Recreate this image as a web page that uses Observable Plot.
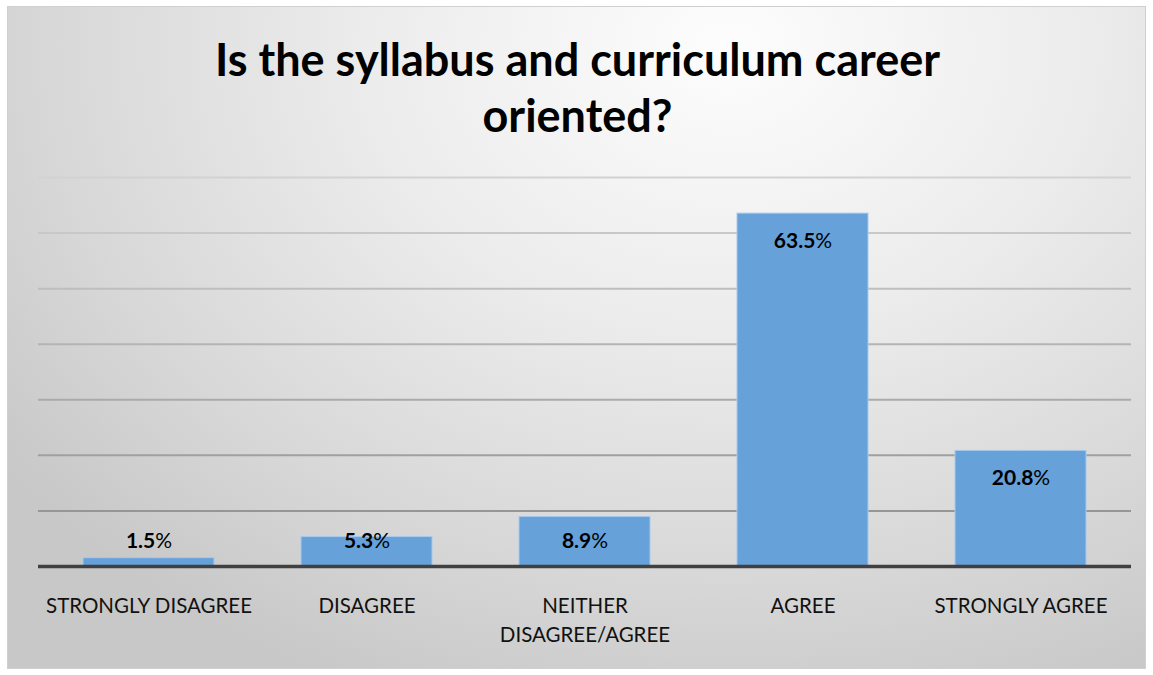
<!DOCTYPE html>
<html>
<head>
<meta charset="utf-8">
<script src="https://cdn.jsdelivr.net/npm/d3@7"></script>
<script src="https://cdn.jsdelivr.net/npm/@observablehq/plot@0.6"></script>
<style>
  html, body { margin: 0; padding: 0; background: #ffffff; }
  #frame {
    position: absolute; left: 7px; top: 6px; width: 1137px; height: 661px;
    border: 1px solid #d0d0d0;
    background: radial-gradient(ellipse 900px 700px at 720px 40px, #fdfdfd 0%, #ececec 40%, #d8d8d8 75%, #c8c8c8 100%);
    font-family: Lato, "Open Sans", sans-serif;
    overflow: hidden;
  }
  #title {
    position: absolute; left: 0; top: 24px; width: 1153px; margin-left: -7px;
    text-align: center; font-weight: bold; font-size: 45px; line-height: 56px; color: #000;
  }
  #chart { position: absolute; left: 0; top: 147px; }
</style>
</head>
<body>
<div id="frame">
  <div id="title">Is the syllabus and curriculum career<br>oriented?</div>
  <div id="chart"></div>
</div>
<script>
const categories = ["STRONGLY DISAGREE", "DISAGREE", "NEITHER DISAGREE/AGREE", "AGREE", "STRONGLY AGREE"];
const categoryLabels = ["STRONGLY DISAGREE", "DISAGREE", "NEITHER\nDISAGREE/AGREE", "AGREE", "STRONGLY AGREE"];
const values = [1.5, 5.3, 8.9, 63.5, 20.8];
const gridTicks = [10, 20, 30, 40, 50, 60, 70];

const data = categories.map((c, i) => ({category: c, label: categoryLabels[i], value: values[i]}));
const gridColor = d3.interpolateRgb("#8c8c8c", "#d2d2d2");

const plot = Plot.plot({
  width: 1137,
  height: 514,
  marginLeft: 30,
  marginRight: 14,
  marginTop: 23,
  marginBottom: 102,
  style: {background: "transparent", fontFamily: "Lato, 'Open Sans', sans-serif"},
  x: {domain: categories, paddingInner: 0.4, paddingOuter: 0.2, axis: null},
  y: {domain: [0, 70], axis: null},
  marks: [
    Plot.ruleY(gridTicks, {stroke: d => gridColor(d / 70), strokeWidth: 2}),
    Plot.barY(data, {x: "category", y: "value", fill: "#66a1d9", stroke: "#a8c9ec", strokeWidth: 1}),
    Plot.ruleY([0], {stroke: "#404040", strokeWidth: 3.5}),
    Plot.text(data, {
      x: "category",
      y: d => Math.max(d.value - 5.0, 4.5),
      text: d => d.value.toFixed(1) + "%",
      fontSize: 21, fill: "#000", className: "pct"
    }),
    Plot.text(data, {
      x: "category", y: 0, text: "label",
      lineAnchor: "top", dy: 26, lineHeight: 1.41,
      fontSize: 20.5, fill: "#111"
    })
  ]
});
document.getElementById("chart").appendChild(plot);

d3.select(plot).selectAll("g.pct text").each(function () {
  const t = this.textContent;
  const num = t.slice(0, -1);
  const sel = d3.select(this);
  sel.text(null);
  sel.append("tspan").attr("font-weight", "bold").text(num);
  sel.append("tspan").text("%");
});
</script>
</body>
</html>
